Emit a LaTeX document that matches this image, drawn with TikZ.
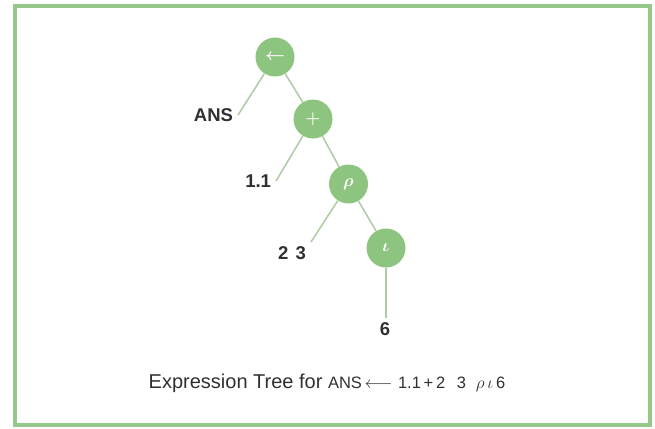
\documentclass[tikz,border=0pt]{standalone}
\usepackage{fontspec}
\usepackage{bm}
\setmainfont{Liberation Sans}
\definecolor{opgreen}{RGB}{141,196,127}
\definecolor{framegreen}{RGB}{150,200,138}
\definecolor{linegreen}{RGB}{172,204,162}
\definecolor{labelgray}{RGB}{48,48,48}
\begin{document}
\begin{tikzpicture}[x=1pt, y=-1pt,
        op/.style={circle, fill=opgreen, minimum size=39pt, inner sep=0pt, text=white, font=\fontsize{18}{20}\selectfont},
        leaf/.style={inner sep=0pt, outer sep=5pt, text=labelgray, font=\fontsize{18.5}{21}\selectfont\bfseries},
        branch/.style={draw=linegreen, line width=1.5pt}]
    \useasboundingbox (0,0) rectangle (655,428);
    % 边框
    \draw[framegreen, line width=4pt] (14.5,6) rectangle (650,425);

    % 运算节点
    \node[op] (assign) at (275,57) {$\bm{\leftarrow}$};
    \node[op] (plus) at (313,119) {$\bm{+}$};
    \node[op] (rho) at (348.5,184) {$\bm{\rho}$};
    \node[op] (iota) at (386,248) {$\bm{\iota}$};

    % 叶子
    \node[leaf, anchor=east] (ans) at (238,115) {ANS};
    \node[leaf, anchor=east] (one) at (276,181) {1.1};
    \node[leaf, anchor=north east] (two) at (311,242) {2\hspace{0.4em}3};
    \node[leaf, anchor=north] (six) at (385,318) {6};

    % 连线
    \draw[branch] (assign) -- (plus);
    \draw[branch] (plus) -- (rho);
    \draw[branch] (rho) -- (iota);
    \draw[branch] (assign) -- (ans.east);
    \draw[branch] (plus) -- (one.east);
    \draw[branch] (rho) -- (two.north east);
    \draw[branch] (iota) -- (iota |- six.north);

    % 标题
    \node[text=labelgray] (caption) at (327,383)
        {{\fontsize{20}{22}\selectfont Expression Tree for\ }%
         {\fontsize{16.5}{19}\selectfont ANS\,$\longleftarrow$\,\,1.1\,+\,2\hspace{0.7em}3\hspace{0.6em}$\rho$\,$\iota$\,6}};
\end{tikzpicture}
\end{document}
